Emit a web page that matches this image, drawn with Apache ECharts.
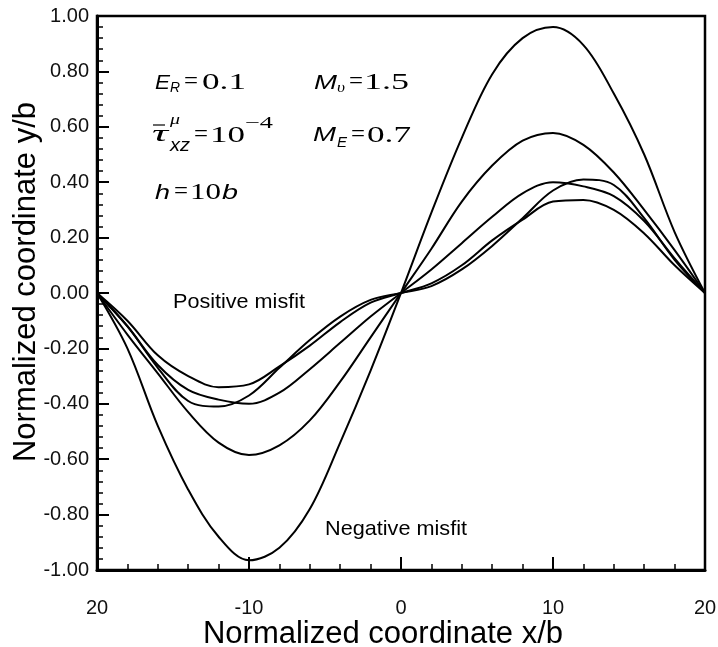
<!DOCTYPE html>
<html>
<head>
<meta charset="utf-8">
<title>Normalized coordinate profiles</title>
<script src="https://cdn.jsdelivr.net/npm/echarts@6/dist/echarts.min.js"></script>
<style>
  html, body { margin: 0; padding: 0; background: #fff; }
  #main { width: 718px; height: 647px; }
</style>
</head>
<body>
<div id="main"></div>
<script>
// x/b positions, read every 2 units
var xs = [-20, -18, -16, -14, -12, -10, -8, -6, -4, -2, 0, 2, 4, 6, 8, 10, 12, 14, 16, 18, 20];
// five curves (y/b)
var curveA = [0, -0.20, -0.48, -0.71, -0.88, -0.965, -0.92, -0.78, -0.54, -0.28, 0, 0.29, 0.56, 0.79, 0.92, 0.96, 0.895, 0.72, 0.50, 0.22, 0];
var curveB = [0, -0.15, -0.29, -0.43, -0.54, -0.585, -0.55, -0.46, -0.32, -0.16, 0, 0.16, 0.33, 0.46, 0.55, 0.578, 0.535, 0.435, 0.30, 0.155, 0];
var curveC = [0, -0.12, -0.26, -0.35, -0.385, -0.40, -0.36, -0.275, -0.18, -0.085, 0, 0.085, 0.18, 0.275, 0.36, 0.40, 0.385, 0.35, 0.26, 0.125, 0];
var curveD = [0, -0.12, -0.27, -0.39, -0.41, -0.37, -0.27, -0.17, -0.085, -0.025, 0, 0.025, 0.085, 0.17, 0.27, 0.37, 0.41, 0.39, 0.27, 0.12, 0];
var curveE = [0, -0.10, -0.225, -0.30, -0.34, -0.33, -0.265, -0.19, -0.105, -0.035, 0, 0.035, 0.10, 0.19, 0.265, 0.33, 0.336, 0.30, 0.215, 0.10, 0];
var curves = [curveA, curveB, curveC, curveD, curveE];

var chart = echarts.init(document.getElementById('main'));

var SANS = '"Liberation Sans", Arial, sans-serif';
var SERIF = '"Liberation Serif", "Times New Roman", serif';

// measure text so the (rather wide) formula glyphs can be stretched to fit
var ctx = document.createElement('canvas').getContext('2d');
function measure(s, font) { ctx.font = font; return ctx.measureText(s).width; }

function txt(s, x, y, font, width) {
  var sx = width ? width / measure(s, font) : 1;
  return {
    type: 'text', silent: true, x: x, y: y, scaleX: sx,
    style: {
      text: s, x: 0, y: 0, font: font, fill: '#000',
      textAlign: 'left', align: 'left',
      textVerticalAlign: 'middle', verticalAlign: 'middle'
    }
  };
}

var NUM = '23px ' + SERIF;
var graphics = [
  // E_R = 0.1
  txt('E', 155, 83, 'italic 21px ' + SANS, 15),
  txt('R', 170, 88, 'italic 14px ' + SANS, 10),
  txt('=', 184, 82, NUM, 14),
  txt('0.1', 202, 83, NUM, 44),
  // M_v = 1.5
  txt('M', 314, 83, 'italic 21px ' + SANS, 23),
  txt('\u03C5', 337, 88, 'italic 14px ' + SERIF, 8),
  txt('=', 349, 82, NUM, 14),
  txt('1.5', 364, 83, NUM, 45),
  // tau_xz^mu = 10^-4
  { type: 'line', silent: true, shape: { x1: 153, y1: 125, x2: 165, y2: 125 }, style: { stroke: '#000', lineWidth: 1.2 } },
  txt('\u03C4', 152, 135, 'italic 24px ' + SERIF, 16),
  txt('\u03BC', 170, 120, 'italic 15px ' + SERIF, 10),
  txt('xz', 170, 146, 'italic 18px ' + SANS, 20),
  txt('=', 194, 135, NUM, 14),
  txt('10', 210, 136, NUM, 35),
  txt('\u22124', 245, 124, '16px ' + SERIF, 28),
  // M_E = 0.7
  txt('M', 313, 135, 'italic 21px ' + SANS, 23),
  txt('E', 337, 143, 'italic 14px ' + SANS, 10),
  txt('=', 351, 135, NUM, 14),
  txt('0.7', 367, 136, NUM, 44),
  // h = 10b
  txt('h', 155, 193, 'italic 21px ' + SANS, 15),
  txt('=', 174, 192, NUM, 14),
  txt('10', 190, 193, NUM, 31),
  txt('b', 222, 193, 'italic 21px ' + SANS, 16),
  // region notes
  txt('Positive misfit', 173, 302, '21px ' + SANS, 132),
  txt('Negative misfit', 325, 529, '21px ' + SANS, 142)
];

var option = {
  backgroundColor: '#fff',
  animation: false,
  grid: {
    left: 97, right: 13, top: 16, bottom: 77,
    outerBoundsMode: 'none', containLabel: false,
    show: true, borderColor: '#000', borderWidth: 2.5, backgroundColor: 'transparent'
  },
  xAxis: {
    type: 'value', min: -20, max: 20, interval: 10,
    name: 'Normalized coordinate x/b', nameLocation: 'middle', nameGap: 49, nameMoveOverlap: false,
    nameTextStyle: { fontFamily: SANS, fontSize: 31, color: '#000', padding: [0, 36, 0, 0] },
    axisLine: { show: true, onZero: false, lineStyle: { color: '#000', width: 3 } },
    axisTick: { inside: true, length: 13, lineStyle: { color: '#000', width: 2 } },
    minorTick: { show: true, splitNumber: 5, length: 6, lineStyle: { color: '#000', width: 1.5 } },
    splitLine: { show: false },
    axisLabel: {
      margin: 28, fontFamily: SANS, fontSize: 20, color: '#111',
      formatter: function (v) { return v === -20 ? '20' : String(v); }
    }
  },
  yAxis: {
    type: 'value', min: -1, max: 1, interval: 0.2,
    name: 'Normalized coordinate y/b', nameLocation: 'middle', nameGap: 55, nameMoveOverlap: false,
    nameTextStyle: { fontFamily: SANS, fontSize: 31, color: '#000', padding: [0, 0, 0, 22] },
    axisLine: { show: true, onZero: false, lineStyle: { color: '#000', width: 3 } },
    axisTick: { inside: true, length: 12, lineStyle: { color: '#000', width: 2 } },
    minorTick: { show: true, splitNumber: 5, length: 6, lineStyle: { color: '#000', width: 1.5 } },
    splitLine: { show: false },
    axisLabel: {
      margin: 8, fontFamily: SANS, fontSize: 20, color: '#111',
      formatter: function (v) { return v.toFixed(2); }
    }
  },
  series: curves.map(function (c) {
    return {
      type: 'line',
      data: xs.map(function (x, i) { return [x, c[i]]; }),
      smooth: 0.35,
      showSymbol: false,
      silent: true,
      lineStyle: { color: '#000', width: 2 }
    };
  }),
  graphic: graphics
};

chart.setOption(option);
</script>
</body>
</html>
